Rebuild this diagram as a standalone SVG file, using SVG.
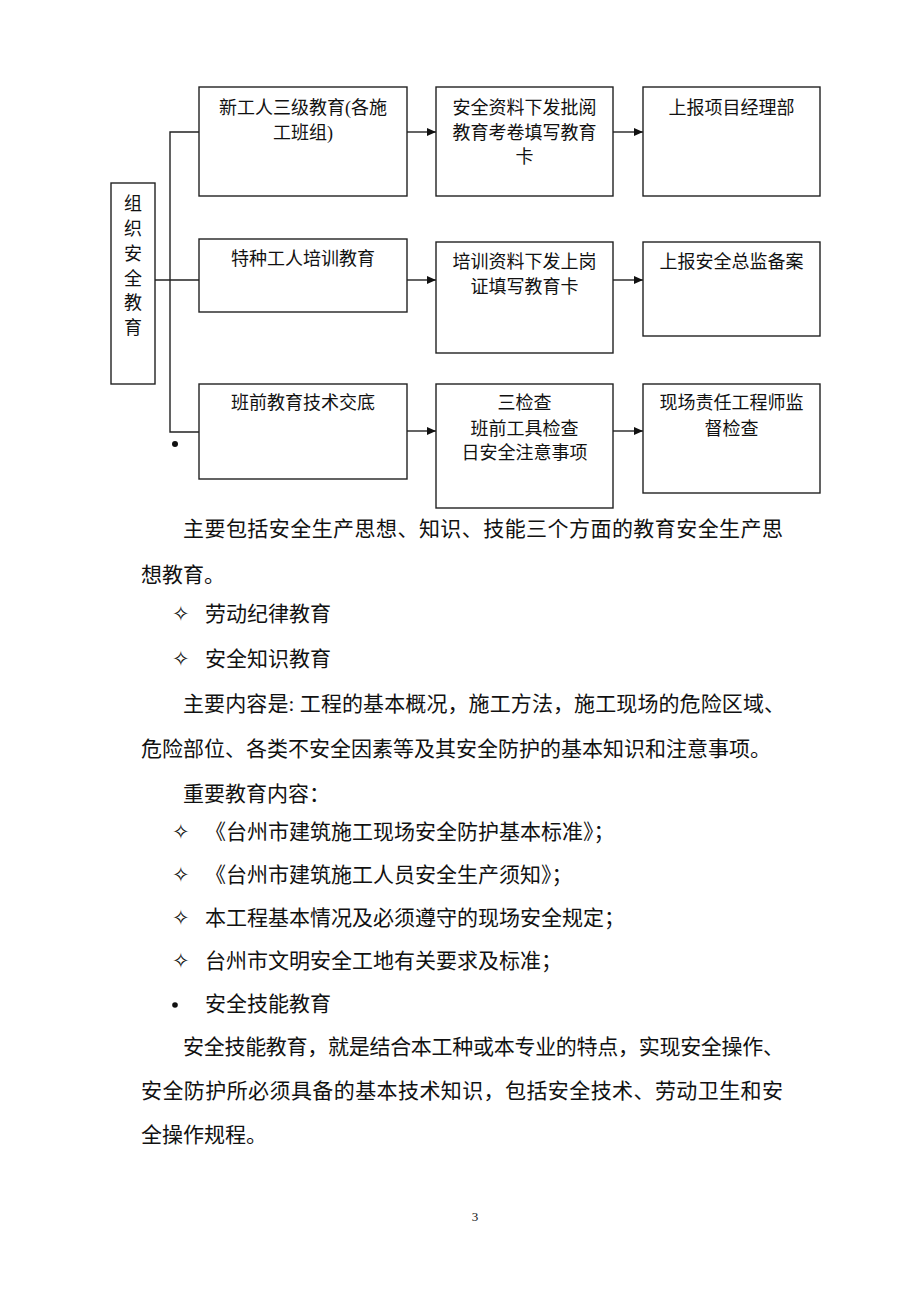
<svg xmlns="http://www.w3.org/2000/svg" width="920" height="1302" viewBox="0 0 920 1302">
<style>
.box{fill:#fff;stroke:#222;stroke-width:1.4}
.ln{fill:none;stroke:#222;stroke-width:1.4}
.bt{font-family:"Liberation Serif","Noto Sans CJK SC",serif;font-size:18px;fill:#111;text-anchor:middle}
.tx{font-family:"Liberation Serif","Noto Sans CJK SC",serif;font-size:21px;fill:#111}
.pg{font-family:"Liberation Serif",serif;font-size:13px;fill:#111;text-anchor:middle}
</style>
<defs>
<marker id="ah" markerWidth="10" markerHeight="10" refX="9" refY="5" orient="auto" markerUnits="userSpaceOnUse">
<path d="M0,1 L9,5 L0,9 Z" fill="#111"/>
</marker>
</defs>
<rect width="920" height="1302" fill="#fff"/>

<g id="connectors">
<path class="ln" d="M200,132 H170 V432 H200"/>
<path class="ln" d="M155,280 H200"/>
<path class="ln" d="M407,132 H436" marker-end="url(#ah)"/>
<path class="ln" d="M613,132 H643" marker-end="url(#ah)"/>
<path class="ln" d="M407,280 H436" marker-end="url(#ah)"/>
<path class="ln" d="M613,280 H643" marker-end="url(#ah)"/>
<path class="ln" d="M407,431 H436" marker-end="url(#ah)"/>
<path class="ln" d="M613,431 H643" marker-end="url(#ah)"/>
</g>

<g id="n-root">
<rect class="box" x="111" y="183" width="44" height="201"/>
<text class="bt" x="133" y="210">组</text>
<text class="bt" x="133" y="235">织</text>
<text class="bt" x="133" y="260">安</text>
<text class="bt" x="133" y="285">全</text>
<text class="bt" x="133" y="309">教</text>
<text class="bt" x="133" y="334">育</text>
</g>

<g id="n-r1c1">
<rect class="box" x="199" y="87" width="208" height="109"/>
<text class="bt" x="303" y="114">新工人三级教育(各施</text>
<text class="bt" x="303" y="139">工班组)</text>
</g>
<g id="n-r1c2">
<rect class="box" x="436" y="87" width="177" height="109"/>
<text class="bt" x="524.5" y="114">安全资料下发批阅</text>
<text class="bt" x="524.5" y="139">教育考卷填写教育</text>
<text class="bt" x="524.5" y="163">卡</text>
</g>
<g id="n-r1c3">
<rect class="box" x="643" y="87" width="177" height="109"/>
<text class="bt" x="731.5" y="114">上报项目经理部</text>
</g>

<g id="n-r2c1">
<rect class="box" x="199" y="239" width="208" height="73"/>
<text class="bt" x="303" y="265">特种工人培训教育</text>
</g>
<g id="n-r2c2">
<rect class="box" x="436" y="242" width="177" height="111"/>
<text class="bt" x="524.5" y="268">培训资料下发上岗</text>
<text class="bt" x="524.5" y="293">证填写教育卡</text>
</g>
<g id="n-r2c3">
<rect class="box" x="643" y="242" width="177" height="94"/>
<text class="bt" x="731.5" y="268">上报安全总监备案</text>
</g>

<g id="n-r3c1">
<rect class="box" x="199" y="384" width="208" height="95"/>
<text class="bt" x="303" y="409">班前教育技术交底</text>
</g>
<g id="n-r3c2">
<rect class="box" x="436" y="384" width="177" height="124"/>
<text class="bt" x="524.5" y="409">三检查</text>
<text class="bt" x="524.5" y="435">班前工具检查</text>
<text class="bt" x="524.5" y="459">日安全注意事项</text>
</g>
<g id="n-r3c3">
<rect class="box" x="643" y="384" width="177" height="109"/>
<text class="bt" x="731.5" y="409">现场责任工程师监</text>
<text class="bt" x="731.5" y="435">督检查</text>
</g>

<circle cx="175" cy="444" r="3" fill="#111"/>

<g id="body">
<text class="tx" x="183" y="536" textLength="600" lengthAdjust="spacing">主要包括安全生产思想、知识、技能三个方面的教育安全生产思</text>
<text class="tx" x="141" y="582">想教育。</text>
<text class="tx" x="172" y="621">✧</text>
<text class="tx" x="205" y="621">劳动纪律教育</text>
<text class="tx" x="172" y="666">✧</text>
<text class="tx" x="205" y="666">安全知识教育</text>
<text class="tx" x="183" y="711" textLength="602" lengthAdjust="spacing">主要内容是: 工程的基本概况，施工方法，施工现场的危险区域、</text>
<text class="tx" x="141" y="756">危险部位、各类不安全因素等及其安全防护的基本知识和注意事项。</text>
<text class="tx" x="183" y="801">重要教育内容：</text>
<text class="tx" x="172" y="839">✧</text>
<text class="tx" x="205" y="839">《台州市建筑施工现场安全防护基本标准》；</text>
<text class="tx" x="172" y="882">✧</text>
<text class="tx" x="205" y="882">《台州市建筑施工人员安全生产须知》；</text>
<text class="tx" x="172" y="925">✧</text>
<text class="tx" x="205" y="925">本工程基本情况及必须遵守的现场安全规定；</text>
<text class="tx" x="172" y="968">✧</text>
<text class="tx" x="205" y="968">台州市文明安全工地有关要求及标准；</text>
<circle cx="175" cy="1005" r="2.8" fill="#111"/>
<text class="tx" x="205" y="1011">安全技能教育</text>
<text class="tx" x="183" y="1054" textLength="601" lengthAdjust="spacing">安全技能教育，就是结合本工种或本专业的特点，实现安全操作、</text>
<text class="tx" x="141" y="1098" textLength="642" lengthAdjust="spacing">安全防护所必须具备的基本技术知识，包括安全技术、劳动卫生和安</text>
<text class="tx" x="141" y="1142">全操作规程。</text>
</g>
<text class="pg" x="475" y="1221">3</text>
</svg>
